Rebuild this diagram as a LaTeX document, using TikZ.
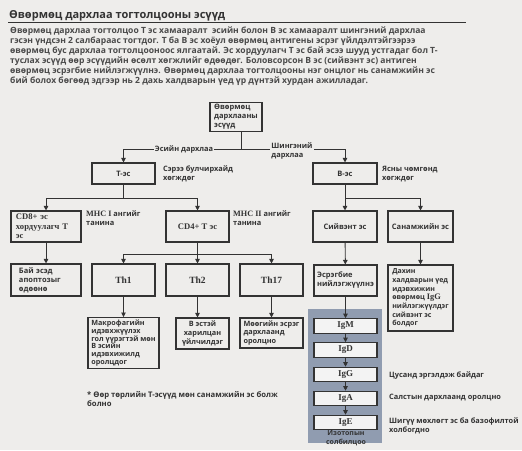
\documentclass[tikz,border=0pt]{standalone}
\usepackage{fontspec}
\setmainfont{Open Sans}
\newfontfamily\latfont{Liberation Serif}
\usetikzlibrary{arrows.meta,positioning}
\definecolor{pagebg}{HTML}{EEEDEB}
\definecolor{ink}{HTML}{333333}
\definecolor{softink}{HTML}{4A4A4A}
\definecolor{panelgray}{HTML}{909CB0}
\definecolor{igfill}{HTML}{F3F3F3}

\tikzset{
  cellbox/.style={draw=ink, line width=1.1pt, fill=pagebg, text=ink, inner sep=2pt,
    font=\bfseries\fontsize{7.5}{9}\selectfont, align=center},
  latbox/.style={cellbox, font=\latfont\bfseries\fontsize{9.5}{10}\selectfont},
  igbox/.style={cellbox, fill=igfill, minimum width=63pt, minimum height=14.5pt,
    font=\latfont\bfseries\fontsize{9}{9}\selectfont},
  note/.style={text=ink, inner sep=1pt, align=left, font=\bfseries\fontsize{7.4}{9}\selectfont},
  onlink/.style={note, fill=pagebg},
  link/.style={draw=ink, line width=0.9pt},
  arrowlink/.style={link, -{Triangle[length=4.5pt,width=4.5pt]}}
}

\begin{document}
\begin{tikzpicture}[x=1pt,y=-1pt]

        % фон
        \fill[pagebg] (0,0) rectangle (522,450);
        \useasboundingbox (0,0) rectangle (522,450);

        % гарчиг ба тайлбар
        \node[anchor=base west, inner sep=0, text=ink, font=\bfseries\fontsize{11}{13}\selectfont] (title) at (9,18) {Өвөрмөц дархлаа тогтолцооны эсүүд};
        \draw[ink, line width=0.8pt] (8,22.5) -- (466,22.5);
        \node[anchor=north west, inner sep=0, text=softink, align=left, font=\bfseries\fontsize{8.55}{10}\selectfont] (intro) at (10,27) {%
          Өвөрмөц дархлаа тогтолцоо Т эс хамааралт\ \ эсийн болон В эс хамааралт шингэний дархлаа\\
          гэсэн үндсэн 2 салбараас тогтдог. Т ба В эс хоёул өвөрмөц антигены эсрэг үйлдэлтэйгээрээ\\
          өвөрмөц бус дархлаа тогтолцооноос ялгаатай. Эс хордуулагч Т эс бай эсээ шууд устгадаг бол Т-\\
          туслах эсүүд өөр эсүүдийн өсөлт хөгжлийг өдөөдөг. Боловсорсон В эс (сийвэнт эс) антиген\\
          өвөрмөц эсрэгбие нийлэгжүүлнэ. Өвөрмөц дархлаа тогтолцооны нэг онцлог нь санамжийн эс\\
          бий болох бөгөөд эдгээр нь 2 дахь халдварын үед үр дүнтэй хурдан ажилладаг.};

        % эсүүд
        \node[cellbox, minimum width=52pt, minimum height=28pt, align=left] (root) at (236,117) {Өвөрмөц\\дархлааны\\эсүүд};
        \node[cellbox, minimum width=63pt, minimum height=21pt] (tcell) at (123.5,173.5) {Т-эс};
        \node[cellbox, minimum width=64pt, minimum height=21pt] (bcell) at (345,173.5) {В-эс};

        \node[latbox, minimum width=70pt, minimum height=31pt, text width=60pt, align=left, font=\latfont\bfseries\fontsize{8.6}{9.4}\selectfont] (cdeight) at (46,226.5) {CD8+ эс\\хордуулагч Т\\эс};
        \node[latbox, minimum width=63pt, minimum height=31pt, font=\latfont\bfseries\fontsize{8.6}{9.4}\selectfont] (cdfour) at (197.5,226.5) {CD4+ T эс};
        \node[cellbox, minimum width=64pt, minimum height=31pt] (plasma) at (345,226.5) {Сийвэнт эс};
        \node[cellbox, minimum width=65pt, minimum height=31pt] (memory) at (420.5,226.5) {Санамжийн эс};

        \node[cellbox, minimum width=70pt, minimum height=32pt, text width=54pt, align=left] (target) at (46,280) {Бай эсэд\\апоптозыг\\өдөөнө};
        \node[latbox, minimum width=63pt, minimum height=32pt] (thone) at (123.5,280) {Th1};
        \node[latbox, minimum width=63pt, minimum height=32pt] (thtwo) at (197.5,280) {Th2};
        \node[latbox, minimum width=63pt, minimum height=32pt] (thsev) at (271.5,280) {Th17};
        \node[cellbox, minimum width=63pt, minimum height=31pt, align=left] (antib) at (345.5,280.5) {Эсрэгбие\\нийлэгжүүлнэ};
        \node[cellbox, minimum width=65pt, minimum height=66pt, align=left, font=\bfseries\fontsize{7}{8.7}\selectfont] (again) at (420.5,298) {Дахин\\халдварын үед\\идэвхижин\\өвөрмөц {\latfont\fontsize{8.4}{8.7}\selectfont IgG}\\нийлэгжүүлдэг\\сийвэнт эс\\болдог};

        \node[cellbox, minimum width=71pt, minimum height=50pt, align=left, font=\bfseries\fontsize{7.2}{7.9}\selectfont] (macro) at (123.5,343) {Макрофагийн\\идэвхжүүлэх\\гол үүрэгтэй мөн\\В эсийн\\идэвхижилд\\оролцдог};
        \node[cellbox, minimum width=53pt, minimum height=31pt, font=\bfseries\fontsize{7.3}{8.6}\selectfont] (bhelp) at (202.5,333.5) {В эстэй\\харилцан\\үйлчилдэг};
        \node[cellbox, minimum width=63pt, minimum height=30pt, align=left, font=\bfseries\fontsize{7.3}{8.6}\selectfont] (fungi) at (271.5,333) {Мөөгийн эсрэг\\дархлаанд\\оролцно};

        % изотопын солбилцоо
        \fill[panelgray] (308,309) rectangle (382,443);
        \node[igbox] (igm) at (345.5,326) {IgM};
        \node[igbox] (igd) at (345.5,350) {IgD};
        \node[igbox] (igg) at (345.5,374.5) {IgG};
        \node[igbox] (iga) at (345.5,398.5) {IgA};
        \node[igbox] (ige) at (345.5,422.5) {IgE};
        \node[note, align=center, font=\bfseries\fontsize{7}{8.8}\selectfont] (switch) at (346,438.5) {Изотопын\\солбилцоо};

        % холбоосууд
        \coordinate (hub) at (241,149);
        \draw[link] (root.south -| hub) -- (hub);
        \draw[arrowlink] (hub) -| (tcell.north);
        \draw[arrowlink] (hub) -| (bcell.north);
        \node[onlink] (celllab) at (184,149) {Эсийн дархлаа};
        \node[onlink] (humlab) at (292,150.5) {Шингэний\\дархлаа};

        \draw[link] (tcell.south) -- ++(0,13.5) coordinate (tfork);
        \draw[arrowlink] (tfork) -| (cdeight.north);
        \draw[arrowlink] (tfork) -| (cdfour.north);
        \draw[link] (bcell.south) -- ++(0,14) coordinate (bfork);
        \draw[arrowlink] (bfork) -| (plasma.north);
        \draw[arrowlink] (bfork) -| (memory.north);
        \draw[link] (cdfour.south) -- ++(0,12) coordinate (hfork);
        \draw[arrowlink] (hfork) -| (thone.north);
        \draw[arrowlink] (hfork) -- (thtwo.north);
        \draw[arrowlink] (hfork) -| (thsev.north);

        \draw[arrowlink] (cdeight) -- (target);
        \draw[arrowlink] (plasma) -- (antib);
        \draw[arrowlink] (memory) -- (again);
        \draw[arrowlink] (thone) -- (macro);
        \draw[arrowlink] (thtwo.south) -- (thtwo.south |- bhelp.north);
        \draw[arrowlink] (thsev) -- (fungi);
        \draw[arrowlink] (antib) -- (igm);
        \foreach \from/\to in {igm/igd, igd/igg, igg/iga, iga/ige}
          \draw[arrowlink] (\from) -- (\to);

        % тайлбарууд
        \node[note, anchor=west] (thymus) at (162,174) {Сэрээ булчирхайд\\хөгждөг};
        \node[note, anchor=west] (marrow) at (381,174) {Ясны чөмгөнд\\хөгждөг};
        \node[note, anchor=west] (mhcone) at (85,218) {{\latfont\fontsize{8.2}{9}\selectfont MHC I} ангийг\\танина};
        \node[note, anchor=west] (mhctwo) at (232,218) {{\latfont\fontsize{8.2}{9}\selectfont MHC II} ангийг\\танина};
        \node[note, anchor=west] (blood) at (388,375) {Цусанд эргэлдэж байдаг};
        \node[note, anchor=west] (mucosa) at (388,398) {Салстын дархлаанд оролцно};
        \node[note, anchor=west] (mast) at (388,425.5) {Шигүү мөхлөгт эс ба базофилтой\\холбогдно};
        \node[note, anchor=west, font=\bfseries\fontsize{7.7}{9}\selectfont] (footnote) at (86,399) {* Өөр төрлийн Т-эсүүд мөн санамжийн эс болж\\болно};

\end{tikzpicture}
\end{document}
